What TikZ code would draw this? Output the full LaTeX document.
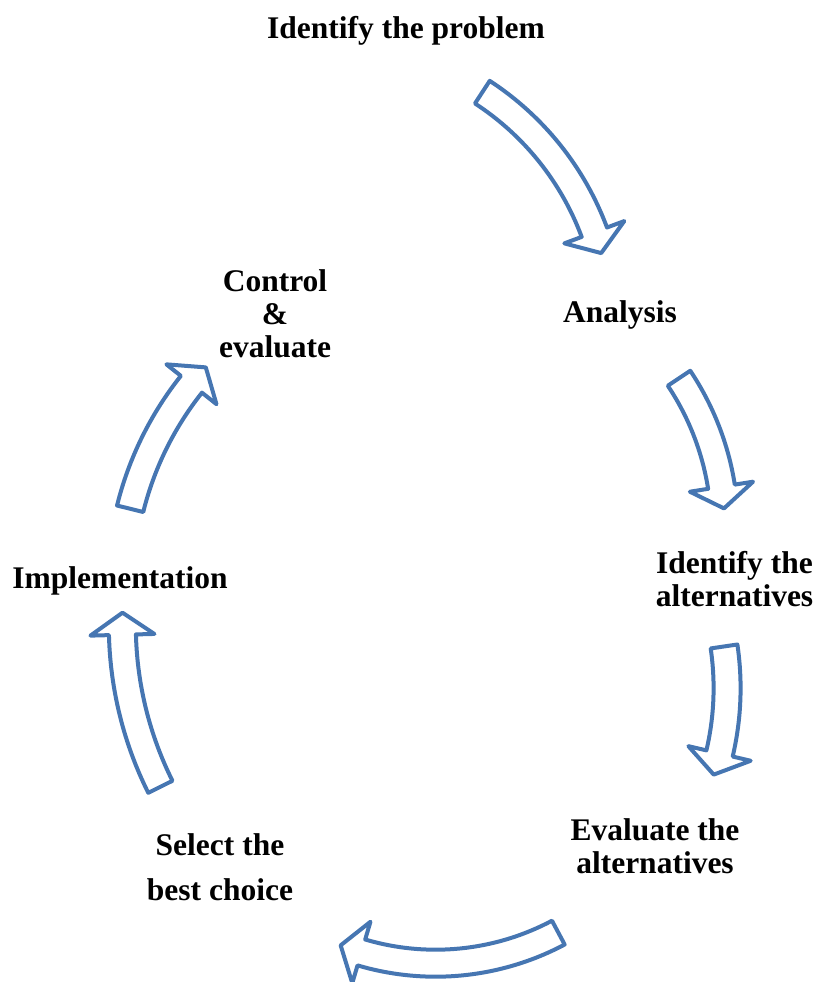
\documentclass[tikz,border=0pt]{standalone}
\usepackage{fontspec}
\setmainfont{Liberation Serif}
\usepackage{tikz}
\usetikzlibrary{positioning}
\definecolor{cycleblue}{RGB}{70,118,178}

\begin{document}
\begin{tikzpicture}[x=1pt, y=-1pt,
    steplabel/.style={font=\fontsize{31.5}{33}\selectfont\bfseries, align=center, anchor=base, inner sep=0pt},
    cyclearrow/.style={draw=cycleblue, fill=white, line width=4pt, line join=round}]
    \useasboundingbox (0,0) rectangle (817,982);

    % Steps of the cycle (base = last line)
    \node[steplabel] (problem) at (406,39) {Identify the problem};
    \node[steplabel] (analysis) at (620,322) {Analysis};
    \node[steplabel] (alternatives) at (734.5,606) {Identify the\\alternatives};
    \node[steplabel] (evaluate) at (655,873) {Evaluate the\\alternatives};
    \node[steplabel] (select) at (220,900) {Select the\\[12pt]best choice};
    \node[steplabel] (implementation) at (120,588) {Implementation};
    \node[steplabel] (control) at (275,357) {Control\\\&\\evaluate};

    % Arrow - problem to analysis
    \begin{scope}[shift={(326,332)}]
        \draw[cyclearrow] (-56.9:299.8) arc[start angle=-56.9, end angle=-20.4, radius=299.8] -- (-20.4:318.3) -- (-16:286.3) -- (-20.4:254.3) -- (-20.4:272.8) arc[start angle=-20.4, end angle=-56.9, radius=272.8] -- cycle;
    \end{scope}

    % Arrow - analysis to alternatives
    \begin{scope}[shift={(452.5,529.3)}]
        \draw[cyclearrow] (-33.7:285.8) arc[start angle=-33.7, end angle=-9, radius=285.8] -- (-9:304.3) -- (-4.4:272.3) -- (-9:240.3) -- (-9:258.8) arc[start angle=-9, end angle=-33.7, radius=258.8] -- cycle;
    \end{scope}

    % Arrow - alternatives to evaluate
    \begin{scope}[shift={(441.3,688.2)}]
        \draw[cyclearrow] (-8.4:299.3) arc[start angle=-8.4, end angle=13.2, radius=299.3] -- (13.2:317.8) -- (17.6:285.8) -- (13.2:253.8) -- (13.2:272.3) arc[start angle=13.2, end angle=-8.4, radius=272.3] -- cycle;
    \end{scope}

    % Arrow - evaluate to select
    \begin{scope}[shift={(435.6,701.8)}]
        \draw[cyclearrow] (62:274.9) arc[start angle=62, end angle=106.5, radius=274.9] -- (106.5:293.4) -- (111.3:261.4) -- (106.5:229.4) -- (106.5:247.9) arc[start angle=106.5, end angle=62, radius=247.9] -- cycle;
    \end{scope}

    % Arrow - select to implementation
    \begin{scope}[shift={(484.3,625.3)}]
        \draw[cyclearrow] (153.5:375.5) arc[start angle=153.5, end angle=178.5, radius=375.5] -- (178.5:394) -- (182:362) -- (178.5:330) -- (178.5:348.5) arc[start angle=178.5, end angle=153.5, radius=348.5] -- cycle;
    \end{scope}

    % Arrow - implementation to control
    \begin{scope}[shift={(446.3,587)}]
        \draw[cyclearrow] (193.9:339.2) arc[start angle=193.9, end angle=218.5, radius=339.2] -- (218.5:357.7) -- (222.4:325.7) -- (218.5:293.7) -- (218.5:312.2) arc[start angle=218.5, end angle=193.9, radius=312.2] -- cycle;
    \end{scope}
\end{tikzpicture}
\end{document}
